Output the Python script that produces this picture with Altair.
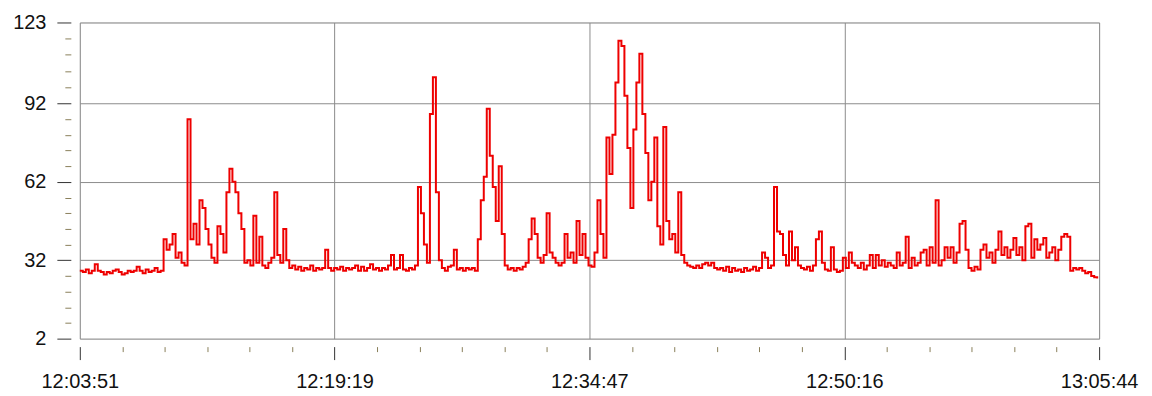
import altair as alt
import pandas as pd

# ---- data (one sample every ~10.9 s) ----
START = "2000-01-01 12:03:51"
END = "2000-01-01 13:05:44"
SAMPLE_SECONDS = 10.9

values_a = [28, 27.5, 28.5, 27, 28, 30.5, 28, 27.5, 26.5, 27.5,
            27, 28, 28.5, 27.5, 26.5, 27, 28, 27.5, 28, 29.5,
            28, 27, 28.5, 27.5, 28, 29, 27.5, 28, 40, 36,
            38, 42, 33, 35, 31, 30, 86, 40, 46, 38,
            55, 52, 44, 38, 33, 31, 45, 42, 35, 58,
            67, 62, 58, 50, 44, 31, 32, 30, 49, 31,
            41, 30, 29, 31, 33, 58, 34, 31, 44, 32]
values_b = [29, 30, 28.5, 29.5, 28, 29, 28.5, 30, 28, 29,
            28.5, 29, 36, 29, 28, 29, 28.5, 29.5, 28, 29,
            28.5, 29, 30, 28, 29.5, 28, 29, 30.5, 28.5, 29,
            28, 29, 28.5, 30, 34, 28.5, 29, 34, 28.5, 28,
            29, 28.5, 30, 60, 50, 38, 31, 88, 102, 58,
            32, 29, 28, 29.5, 30, 36, 28.5, 29, 28, 29,
            28.5, 29, 28, 40, 55, 64, 90, 72, 60, 47]
values_c = [68, 42, 30, 28.5, 29, 28, 29, 28.5, 29.5, 31,
            40, 48, 42, 33, 31, 34, 50, 35, 33, 31,
            30, 31, 42, 33, 35, 31, 47, 34, 42, 33,
            30, 29.5, 35, 55, 42, 33, 79, 65, 80, 100,
            116, 114, 95, 75, 52, 82, 100, 111, 88, 73,
            55, 62, 79, 45, 38, 83, 47, 40, 42, 35,
            58, 34, 31, 30, 29.5, 29, 30, 29, 30.5, 31]
values_d = [30, 31, 29, 28.5, 29, 28, 29.5, 27.5, 29, 28,
            28.5, 27.5, 29, 28, 28.5, 29.5, 28, 29, 35, 33,
            29, 30, 60, 43, 42, 34, 30, 43, 32, 37,
            30, 29, 28.5, 29.5, 28, 30, 40, 43, 31, 28.5,
            28, 37, 28.5, 27.5, 28, 33, 29, 35, 31, 30,
            29, 31, 28.5, 30, 34, 29, 34, 30, 32, 29.5]
values_e = [31, 30, 29, 35, 30, 31, 41, 29, 33, 30,
            31, 35, 36, 30, 37, 31, 55, 30, 32, 37,
            33, 37, 31, 35, 46, 47, 36, 29, 28, 29.5,
            28.5, 36, 38, 33, 35, 31, 36, 43, 34, 37,
            33, 36, 40.5, 34, 37, 32, 45, 46, 33, 40,
            36, 38, 40.5, 33, 35, 37, 32, 36, 41, 42,
            41, 28, 29, 28.5, 29, 28, 27, 27.5, 26, 25.5,
            25]

y_major = [2, 32, 62, 92, 123]
y_minor = [8, 14, 20, 26, 38, 44, 50, 56, 68, 74, 80, 86, 98.2, 104.4, 110.6, 116.8]
x_major_labels = ["12:03:51", "12:19:19", "12:34:47", "12:50:16", "13:05:44"]

values = values_a + values_b + values_c + values_d + values_e
start = pd.Timestamp(START)
end = pd.Timestamp(END)
times = [start + pd.Timedelta(seconds=i * SAMPLE_SECONDS) for i in range(len(values))]
df = pd.DataFrame({"time": times, "value": values})

def dt(ts):
    return alt.DateTime(year=2000, month=1, date=1, hours=ts.hour,
                        minutes=ts.minute, seconds=ts.second)

x_major = [dt(pd.Timestamp("2000-01-01 " + s)) for s in x_major_labels]
span = (end - start).total_seconds()
x_minor = []
for k in range(25):
    if k % 6 != 0:
        ts = start + pd.Timedelta(seconds=round(k * span / 24))
        x_minor.append(dt(ts))

FONT = "Liberation Sans"
GRID = "#8c8c8c"
MINOR = "#8a7f5a"

x_scale = alt.Scale(domain=[dt(start), dt(end)], nice=False)
y_scale = alt.Scale(domain=[2, 123], nice=False, zero=False)

line = alt.Chart(df).mark_line(color="#ee0000", strokeWidth=2,
                               interpolate="step-after").encode(
    x=alt.X("time:T", scale=x_scale, title=None,
            axis=alt.Axis(values=x_major, format="%H:%M:%S", grid=True,
                          gridColor=GRID, gridWidth=1, domain=False,
                          tickSize=13, tickColor="#333333", tickWidth=1,
                          offset=8, labelPadding=12, labelFont=FONT,
                          labelFontSize=20, labelColor="#111111",
                          labelOverlap=False, labelFlush=False, labelBound=False)),
    y=alt.Y("value:Q", scale=y_scale, title=None,
            axis=alt.Axis(values=y_major, grid=True, gridColor=GRID,
                          gridWidth=1, domain=False, tickSize=14,
                          tickColor="#333333", tickWidth=1, offset=9,
                          labelPadding=11, labelFont=FONT, labelFontSize=20,
                          labelColor="#111111", labelOverlap=False,
                          labelFlush=False, labelBound=False)),
)

minor = alt.Chart(df).mark_point(opacity=0).encode(
    x=alt.X("time:T", scale=x_scale, title=None,
            axis=alt.Axis(values=x_minor, orient="bottom", labels=False,
                          grid=False, domain=False, tickSize=5,
                          tickColor=MINOR, tickWidth=1, offset=8)),
    y=alt.Y("value:Q", scale=y_scale, title=None,
            axis=alt.Axis(values=y_minor, orient="left", labels=False,
                          grid=False, domain=False, tickSize=6,
                          tickColor=MINOR, tickWidth=1, offset=9)),
)

chart = alt.layer(line, minor).resolve_axis(
    x="independent", y="independent"
).properties(
    width=1022, height=317,
    autosize=alt.AutoSizeParams(type="none"),
    padding={"left": 72, "top": 14, "right": 45, "bottom": 56},
).configure_view(stroke=GRID, strokeWidth=1).configure(background="white")

chart.save("out.html", embed_options={"renderer": "svg", "actions": False})
